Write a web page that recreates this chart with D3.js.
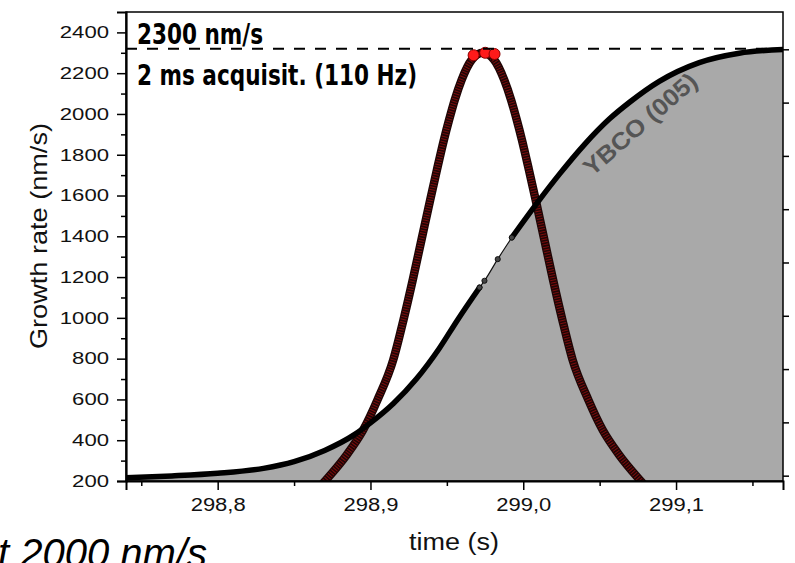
<!DOCTYPE html>
<html>
<head>
<meta charset="utf-8">
<script src="https://cdn.jsdelivr.net/npm/d3@7"></script>
<style>
  body { margin: 0; background: #fff; }
  svg { display: block; }
</style>
</head>
<body>
<svg id="chart" width="795" height="563"></svg>
<script>
// Growth-rate pulse and the integrated YBCO (005) signal over one deposition burst

// axis ticks
const xMajorTicks = [298.8, 298.9, 299.0, 299.1];
const xMinorTicks = [298.75, 298.85, 298.95, 299.05, 299.15];
const yMajorTicks = [200, 400, 600, 800, 1000, 1200, 1400, 1600, 1800, 2000, 2200, 2400];
const yMinorTicks = [300, 500, 700, 900, 1100, 1300, 1500, 1700, 1900, 2100, 2300];
const rightTicks = [0, 1, 2, 3, 4, 5, 6, 7, 8];

const peakRate = 2300; // nm/s

// YBCO (005) trace, dense part before the sparse stretch
const ybcoLowTime = [298.740, 298.770, 298.800, 298.830, 298.850, 298.870, 298.890, 298.900, 298.915, 298.930, 298.945, 298.957, 298.9714];
const ybcoLowRate = [216, 225, 238, 262, 295, 350, 430, 485, 580, 700, 850, 990, 1149];
// sparse stretch (individual acquisitions)
const ybcoGapTime = [298.9714, 298.9746, 298.9833, 298.9925];
const ybcoGapRate = [1149, 1182, 1288, 1394];
// dense part after it
const ybcoHighTime = [298.9925, 299.0106, 299.0237, 299.040, 299.0563, 299.070, 299.089, 299.1152, 299.1413, 299.170];
const ybcoHighRate = [1394, 1579, 1705, 1850, 1975, 2060, 2160, 2252, 2298, 2316];

// growth-rate pulse
const pulseTime = [298.8644, 298.8703, 298.8844, 298.8952, 298.9046, 298.9149, 298.9216, 298.9277, 298.9334, 298.9391, 298.9435,
                   298.9481, 298.9515, 298.9552, 298.9597, 298.9663, 298.9736,
                   298.9809, 298.9875, 298.9920, 298.9957, 298.9991, 299.0037, 299.0081, 299.0138, 299.0195, 299.0256,
                   299.0323, 299.0426, 299.0520, 299.0628, 299.0769, 299.0828];
const pulseRate = [150, 200, 328, 450, 598, 794, 990, 1187, 1383, 1579, 1726,
                   1874, 1972, 2070, 2168, 2266, 2300,
                   2266, 2168, 2070, 1972, 1874, 1726, 1579, 1383, 1187, 990,
                   794, 598, 450, 328, 200, 150];
// top-most acquisitions
const peakTime = [298.9675, 298.9751, 298.9812];
const peakValue = [2288, 2300, 2294];

const svg = d3.select('#chart');
const plotL = 126, plotR = 783, plotT = 12, plotB = 481;

const x = d3.scaleLinear().domain([298.74, 299.17]).range([plotL, plotR]);
const y = d3.scaleLinear().domain([200, 2500]).range([plotB, plotT]);
const yRight = d3.scaleLinear().domain([-0.1, 8.7]).range([plotB, plotT]);

const zip = (a, b) => a.map((d, i) => [d, b[i]]);

svg.append('defs').append('clipPath').attr('id', 'plotClip')
  .append('rect').attr('x', plotL).attr('y', plotT).attr('width', plotR - plotL).attr('height', plotB - plotT);

const plot = svg.append('g').attr('clip-path', 'url(#plotClip)');

// grey area under YBCO trace
const allYbco = zip(ybcoLowTime, ybcoLowRate)
  .concat(zip(ybcoGapTime, ybcoGapRate).slice(1))
  .concat(zip(ybcoHighTime, ybcoHighRate).slice(1));
const area = d3.area().x(d => x(d[0])).y0(y(200)).y1(d => y(d[1])).curve(d3.curveMonotoneX);
plot.append('path').datum(allYbco).attr('d', area).attr('fill', '#a9a9a9');

const line = d3.line().x(d => x(d[0])).y(d => y(d[1])).curve(d3.curveMonotoneX);

// pulse band: dense outlined red markers
const pulse = zip(pulseTime, pulseRate);
plot.append('path').datum(pulse).attr('d', line)
  .attr('fill', 'none').attr('stroke', '#1e0505').attr('stroke-width', 8.5);
plot.append('path').datum(pulse).attr('d', line)
  .attr('fill', 'none').attr('stroke', '#9a1010').attr('stroke-width', 6)
  .attr('stroke-dasharray', '1 1.6').attr('opacity', 0.75);

// YBCO thick trace
[zip(ybcoLowTime, ybcoLowRate), zip(ybcoHighTime, ybcoHighRate)].forEach(seg => {
  plot.append('path').datum(seg).attr('d', line)
    .attr('fill', 'none').attr('stroke', '#000').attr('stroke-width', 5.5).attr('stroke-linecap', 'round');
});
const gap = zip(ybcoGapTime, ybcoGapRate);
plot.append('path').datum(gap).attr('d', line)
  .attr('fill', 'none').attr('stroke', '#111').attr('stroke-width', 1.2);
plot.selectAll('circle.gap').data(gap).join('circle').attr('class', 'gap')
  .attr('cx', d => x(d[0])).attr('cy', d => y(d[1])).attr('r', 2.6)
  .attr('fill', '#444').attr('stroke', '#000').attr('stroke-width', 0.8);

// top acquisitions of the pulse
plot.selectAll('circle.peak').data(zip(peakTime, peakValue)).join('circle').attr('class', 'peak')
  .attr('cx', d => x(d[0])).attr('cy', d => y(d[1])).attr('r', 5.5)
  .attr('fill', '#ff1a1a').attr('stroke', '#8a0000').attr('stroke-width', 1);

// dashed marker tangent to the pulse maximum
svg.append('line')
  .attr('x1', plotL).attr('x2', plotR)
  .attr('y1', y(peakRate) - 4).attr('y2', y(peakRate) - 4)
  .attr('stroke', '#000').attr('stroke-width', 2).attr('stroke-dasharray', '11 10');

// frame
svg.append('rect').attr('x', plotL).attr('y', plotT).attr('width', plotR - plotL).attr('height', plotB - plotT)
  .attr('fill', 'none').attr('stroke', '#000').attr('stroke-width', 1.5);

const tickFont = 'Liberation Sans, Arial, sans-serif';

// left axis
const yAxis = svg.append('g').attr('transform', `translate(${plotL},0)`)
  .call(d3.axisLeft(y).tickValues(yMajorTicks).tickSize(9).tickPadding(8).tickFormat(d3.format('d')));
yAxis.select('.domain').attr('stroke-width', 2.2);
yAxis.selectAll('.tick line').attr('stroke-width', 1.5);
yAxis.selectAll('.tick text').attr('font-family', tickFont).attr('font-size', 16.5).attr('fill', '#111')
  .attr('textLength', d => String(d).length * 12.3).attr('lengthAdjust', 'spacingAndGlyphs');
svg.append('g').attr('transform', `translate(${plotL},0)`)
  .call(d3.axisLeft(y).tickValues(yMinorTicks).tickSize(5).tickFormat(''))
  .call(g => g.select('.domain').remove())
  .selectAll('.tick line').attr('stroke-width', 1.5);

// bottom axis
const fmt = d => d3.format('.1f')(d).replace('.', ',');
const xAxis = svg.append('g').attr('transform', `translate(0,${plotB})`)
  .call(d3.axisBottom(x).tickValues(xMajorTicks).tickSize(9).tickPadding(8).tickFormat(fmt));
xAxis.select('.domain').attr('stroke-width', 2);
xAxis.selectAll('.tick line').attr('stroke-width', 1.5);
xAxis.selectAll('.tick text').attr('font-family', tickFont).attr('font-size', 18).attr('fill', '#111')
  .attr('textLength', 55).attr('lengthAdjust', 'spacingAndGlyphs');
svg.append('g').attr('transform', `translate(0,${plotB})`)
  .call(d3.axisBottom(x).tickValues(xMinorTicks).tickSize(5).tickFormat(''))
  .call(g => g.select('.domain').remove())
  .selectAll('.tick line').attr('stroke-width', 1.5);

// right axis (ticks only)
svg.append('g').attr('transform', `translate(${plotR},0)`)
  .call(d3.axisRight(yRight).tickValues(rightTicks).tickSize(6).tickFormat(''))
  .call(g => g.select('.domain').remove())
  .selectAll('.tick line').attr('stroke-width', 1.5);

// axis titles
svg.append('text').attr('x', 454).attr('y', 550).attr('text-anchor', 'middle')
  .attr('font-family', tickFont).attr('font-size', 23).attr('fill', '#111')
  .attr('textLength', 90).attr('lengthAdjust', 'spacingAndGlyphs').text('time (s)');
svg.append('text').attr('transform', 'translate(47,236) rotate(-90)').attr('text-anchor', 'middle')
  .attr('font-family', tickFont).attr('font-size', 24).attr('fill', '#111')
  .attr('textLength', 226).attr('lengthAdjust', 'spacingAndGlyphs').text('Growth rate (nm/s)');

// annotations
const boldFont = 'Liberation Sans Narrow, Arial Narrow, DejaVu Sans Condensed, sans-serif';
svg.append('text').attr('x', 137).attr('y', 43.5)
  .attr('font-family', boldFont).attr('font-weight', 'bold').attr('font-size', 28).attr('fill', '#000')
  .attr('textLength', 126).attr('lengthAdjust', 'spacingAndGlyphs').text(`${peakRate} nm/s`);
svg.append('text').attr('x', 137).attr('y', 85)
  .attr('font-family', boldFont).attr('font-weight', 'bold').attr('font-size', 28).attr('fill', '#000')
  .attr('textLength', 280).attr('lengthAdjust', 'spacingAndGlyphs').text('2 ms acquisit. (110 Hz)');

svg.append('text').attr('transform', 'translate(640,124) rotate(-41)')
  .attr('text-anchor', 'middle').attr('dominant-baseline', 'central')
  .attr('font-family', tickFont).attr('font-weight', 'bold').attr('font-size', 24).attr('fill', '#555')
  .attr('textLength', 142).attr('lengthAdjust', 'spacingAndGlyphs').text('YBCO (005)');

// caption running off the lower edge
svg.append('text').attr('x', -2).attr('y', 567)
  .attr('font-family', tickFont).attr('font-style', 'italic').attr('font-size', 40).attr('fill', '#000')
  .text('t 2000 nm/s');
</script>
</body>
</html>
